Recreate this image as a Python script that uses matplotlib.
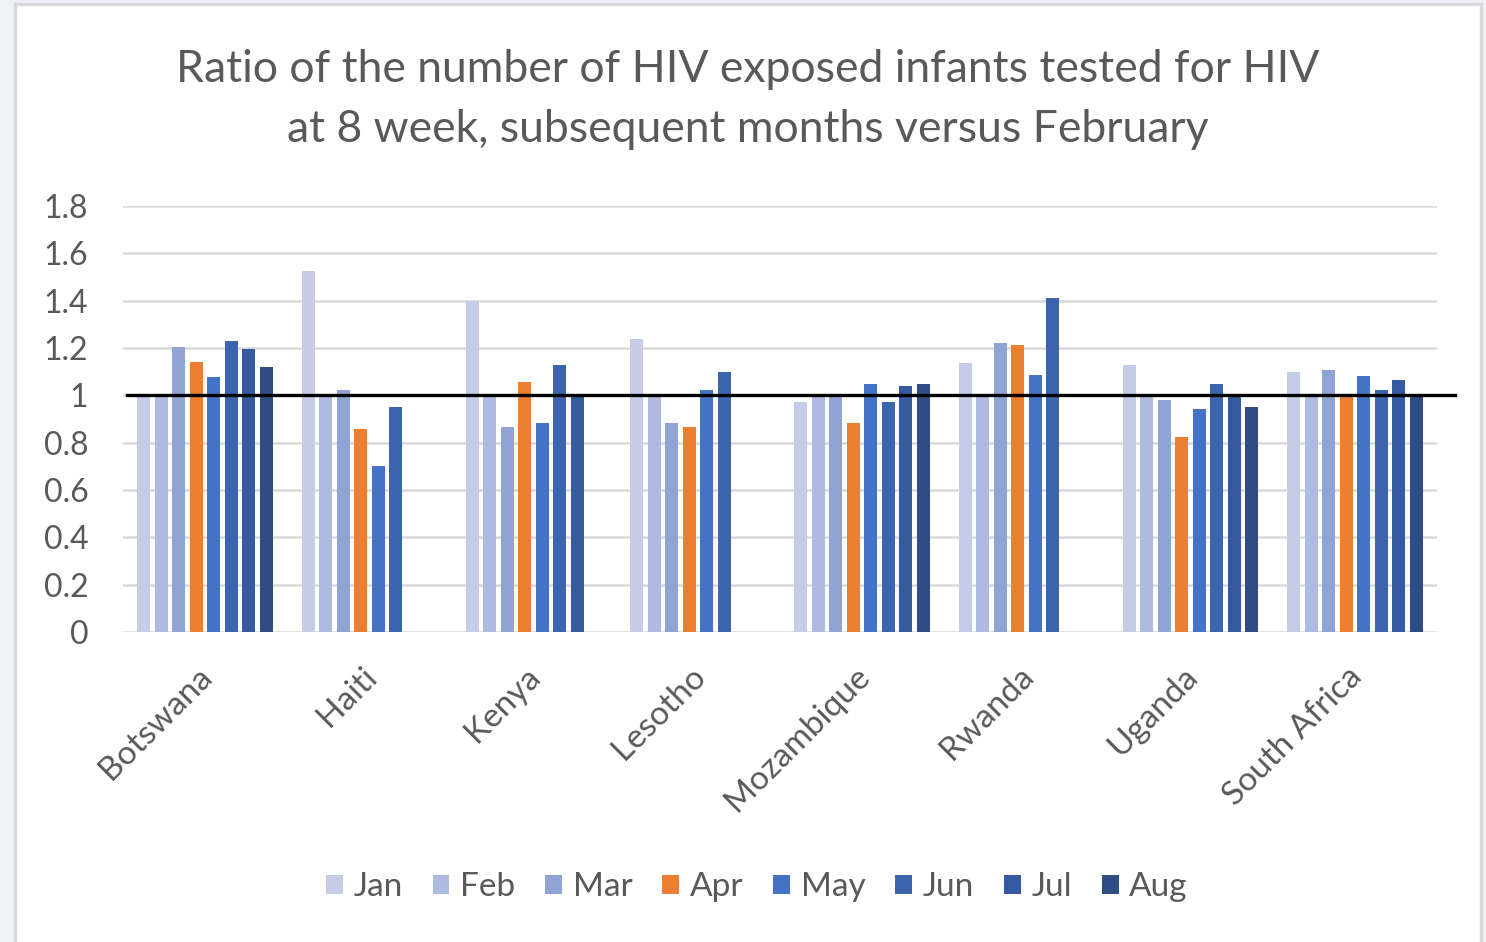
import numpy as np
import matplotlib
matplotlib.use("Agg")
import matplotlib.pyplot as plt
from matplotlib.patches import Rectangle

# data
countries = ["Botswana", "Haiti", "Kenya", "Lesotho", "Mozambique", "Rwanda", "Uganda", "South Africa"]
months = ["Jan", "Feb", "Mar", "Apr", "May", "Jun", "Jul", "Aug"]

nan = np.nan
jan = [1.00, 1.525, 1.40, 1.237, 0.972, 1.138, 1.129, 1.097]
feb = [1.00, 1.00, 1.00, 1.00, 1.00, 1.00, 1.00, 1.00]
mar = [1.203, 1.022, 0.865, 0.882, 1.00, 1.22, 0.98, 1.105]
apr = [1.14, 0.856, 1.055, 0.865, 0.882, 1.211, 0.825, 1.00]
may = [1.079, 0.701, 0.882, 1.022, 1.046, 1.087, 0.941, 1.08]
jun = [1.228, 0.949, 1.129, 1.097, 0.972, 1.41, 1.046, 1.022]
jul = [1.196, nan, 1.00, nan, 1.039, nan, 1.00, 1.065]
aug = [1.121, nan, nan, nan, 1.046, nan, 0.949, 1.00]
series = [jan, feb, mar, apr, may, jun, jul, aug]

colors = ["#C5CDE6", "#AEBADF", "#8FA4D4", "#ED7D31", "#4472C4", "#3D65AE", "#355A9F", "#2E4D87"]

plt.rcParams["font.family"] = ["Lato", "DejaVu Sans"]
txt_col = "#595959"

fig = plt.figure(figsize=(14.86, 9.42), dpi=100)
fig.patch.set_facecolor("#EFF2F6")
# white chart area with a grey frame
fig.patches.append(Rectangle((15 / 1486, -0.01), 1466 / 1486, 1 - 4 / 942 + 0.01,
                             transform=fig.transFigure, facecolor="white",
                             edgecolor="#D9D9D9", linewidth=2.5, zorder=-10))

ax = fig.add_axes([123 / 1486, 1 - 632 / 942, 1314 / 1486, 426 / 942])
ax.set_facecolor("none")
ax.set_zorder(1)

x = np.arange(len(countries))
pitch = 0.1066
for i, (vals, c) in enumerate(zip(series, colors)):
    ax.bar(x + (i - 3.5) * pitch, vals, width=0.08, color=c, label=months[i], zorder=2)

# reference line at 1
ax.plot([0.003, 1.014], [1, 1], color="black", lw=2.4, zorder=4,
        transform=ax.get_yaxis_transform(), clip_on=False)

ax.set_xlim(-0.5, len(countries) - 0.5)
ax.set_ylim(0, 1.8)
ax.set_yticks(np.arange(0, 1.81, 0.2))
ax.set_yticklabels(["0", "0.2", "0.4", "0.6", "0.8", "1", "1.2", "1.4", "1.6", "1.8"])
ax.yaxis.grid(True, color="#D9D9D9", lw=1.8, zorder=0)
ax.set_axisbelow(True)
for s in ax.spines.values():
    s.set_visible(False)
ax.tick_params(axis="both", length=0, labelcolor=txt_col)
ax.tick_params(axis="y", pad=25, labelsize=23)
ax.set_xticks(x - 0.05)
ax.set_xticklabels(countries, rotation=45, ha="right", va="top", rotation_mode="anchor")
ax.tick_params(axis="x", pad=21, labelsize=24)

fig.text(748 / 1486, 1 - 82 / 942, "Ratio of the number of HIV exposed infants tested for HIV",
         ha="center", va="baseline", fontsize=32, color=txt_col)
fig.text(748 / 1486, 1 - 142 / 942, "at 8 week, subsequent months versus February",
         ha="center", va="baseline", fontsize=32, color=txt_col)

fig.legend(loc="center", bbox_to_anchor=(757 / 1486, 1 - 887 / 942), ncol=8,
           frameon=False, fontsize=24, labelcolor=txt_col, handlelength=0.5,
           handleheight=0.5, handletextpad=0.32, columnspacing=0.9)

fig.savefig("out.png", dpi=100)
